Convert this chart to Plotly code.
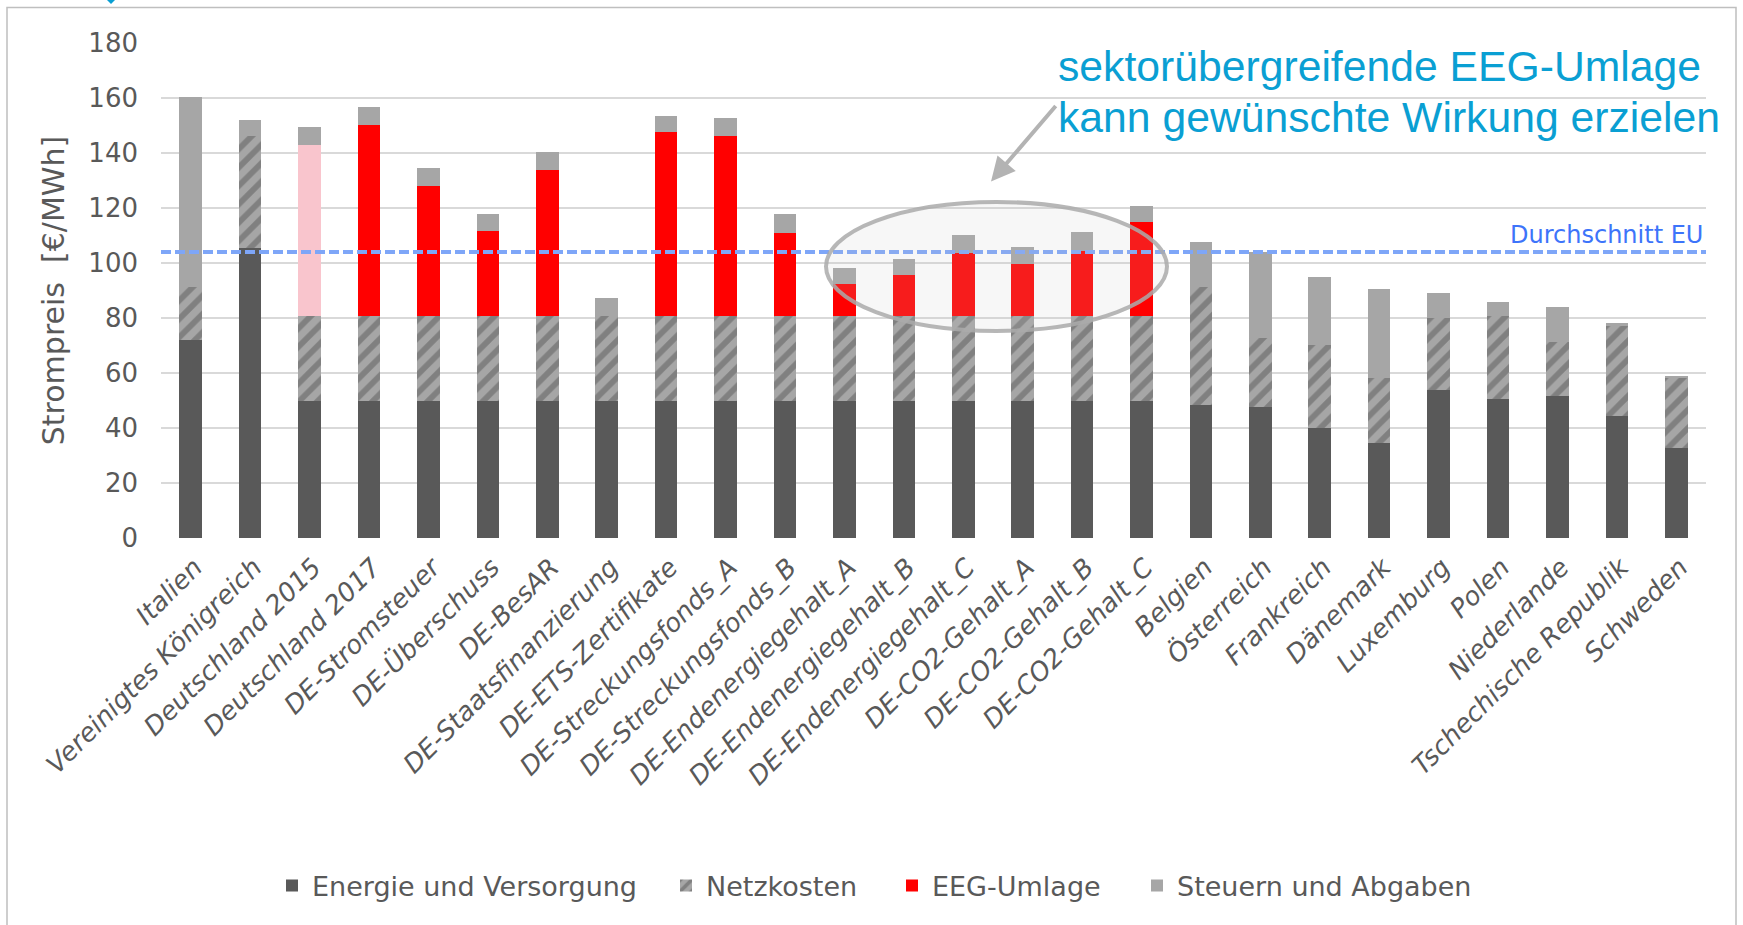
import plotly.graph_objects as go

# ---------------- data ----------------
categories = ['Italien', 'Vereinigtes Königreich', 'Deutschland 2015', 'Deutschland 2017',
              'DE-Stromsteuer', 'DE-Überschuss', 'DE-BesAR', 'DE-Staatsfinanzierung',
              'DE-ETS-Zertifikate', 'DE-Streckungsfonds_A', 'DE-Streckungsfonds_B',
              'DE-Endenergiegehalt_A', 'DE-Endenergiegehalt_B', 'DE-Endenergiegehalt_C',
              'DE-CO2-Gehalt_A', 'DE-CO2-Gehalt_B', 'DE-CO2-Gehalt_C', 'Belgien', 'Österreich',
              'Frankreich', 'Dänemark', 'Luxemburg', 'Polen', 'Niederlande',
              'Tschechische Republik', 'Schweden']

energie = [72.0, 105.3, 49.8, 49.8, 49.8, 49.8, 49.8, 49.8, 49.8, 49.8, 49.8, 49.8, 49.8,
           49.8, 49.8, 49.8, 49.8, 48.4, 47.5, 40.1, 34.5, 54.0, 50.7, 51.6, 44.2, 32.8]
netzkosten = [19.4, 40.8, 30.8, 31.1, 31.1, 31.1, 31.1, 31.1, 31.1, 31.1, 31.1, 31.1, 31.1,
              31.1, 31.1, 31.1, 31.1, 43.0, 25.3, 30.1, 23.6, 26.0, 30.1, 19.5, 32.8, 25.7]
eeg_umlage = [0, 0, 62.3, 69.3, 47.2, 30.9, 52.9, 0, 66.7, 65.2, 30.0, 11.4, 14.7, 22.8,
              18.6, 23.4, 34.1, 0, 0, 0, 0, 0, 0, 0, 0, 0]
steuern = [68.8, 5.8, 6.5, 6.5, 6.6, 5.9, 6.5, 6.5, 5.9, 6.7, 6.8, 5.9, 5.8, 6.6, 6.5, 6.8,
           5.8, 16.3, 31.3, 24.6, 32.5, 9.1, 4.9, 13.0, 1.3, 0.3]

durchschnitt_eu = 104
y_ticks = [0, 20, 40, 60, 80, 100, 120, 140, 160, 180]

# ---------------- styling ----------------
W, H = 1743, 925
L, R, T, B = 161, 37, 43, 387
PW, PH = W - L - R, H - T - B
TXT = '#595959'
FONT = 'DejaVu Sans'

def px_x(px):
    return (px - L) / PW

def px_y(py):
    return (H - B - py) / PH

slot = PW / len(categories)

def cat_x(px):
    return (px - L) / slot - 0.5

def val_y(py):
    return (H - B - py) / PH * 180

fig = go.Figure()

fig.add_trace(go.Bar(name='Energie und Versorgung', x=categories, y=energie,
                     marker=dict(color='#595959', line=dict(width=0)), legend='legend'))
fig.add_trace(go.Bar(name='Netzkosten', x=categories, y=netzkosten,
                     marker=dict(color='#a6a6a6', line=dict(width=0),
                                 pattern=dict(shape='/', fgcolor='#595959', bgcolor='#a6a6a6',
                                              size=13, solidity=0.45)),
                     legend='legend2'))
eeg_colors = ['#f9c5cd' if c == 'Deutschland 2015' else '#ff0000' for c in categories]
fig.add_trace(go.Bar(name='EEG-Umlage', x=categories, y=eeg_umlage,
                     marker=dict(color=eeg_colors, line=dict(width=0)), legend='legend3'))
fig.add_trace(go.Bar(name='Steuern und Abgaben', x=categories, y=steuern,
                     marker=dict(color='#a6a6a6', line=dict(width=0)), legend='legend4'))

# average line
fig.add_shape(type='line', xref='paper', yref='y', x0=0, x1=1,
              y0=durchschnitt_eu, y1=durchschnitt_eu, layer='above',
              line=dict(color='#7ea6f8', width=4, dash='10px,4px'))
fig.add_annotation(xref='paper', yref='paper', x=px_x(1705), y=px_y(235),
                   xanchor='right', yanchor='middle', showarrow=False,
                   text='Durchschnitt EU',
                   font=dict(family=FONT, size=24, color='#3d74fa'))

# ellipse highlight
fig.add_shape(type='circle', xref='x', yref='y',
              x0=cat_x(826), x1=cat_x(1167), y0=val_y(331), y1=val_y(202),
              layer='above', fillcolor='rgba(200,200,200,0.14)',
              line=dict(color='rgba(170,170,170,0.85)', width=4))

# arrow
fig.add_annotation(xref='x', yref='y', x=cat_x(991), y=val_y(181.5),
                   ax=66, ay=-77, axref='pixel', ayref='pixel', text='',
                   showarrow=True, arrowhead=2, arrowsize=1.2, arrowwidth=4,
                   arrowcolor='#b3b3b3')

# headline text (two lines)
head_font = dict(family='Liberation Sans', size=42.7, color='#0a9fd3')
fig.add_annotation(xref='paper', yref='paper', x=px_x(1056), y=px_y(66),
                   xanchor='left', yanchor='middle', align='left', showarrow=False,
                   text='sektorübergreifende EEG-Umlage', font=head_font)
fig.add_annotation(xref='paper', yref='paper', x=px_x(1056), y=px_y(117),
                   xanchor='left', yanchor='middle', align='left', showarrow=False,
                   text='kann gewünschte Wirkung erzielen', font=head_font)

# small cut-off mark at the top edge
fig.add_shape(type='path', xref='paper', yref='paper',
              path=f'M {px_x(107)},{px_y(0)} L {px_x(115)},{px_y(0)} L {px_x(111)},{px_y(4)} Z',
              fillcolor='#0a9fd3', line=dict(width=0), layer='above')

# outer frame
fig.add_shape(type='rect', xref='paper', yref='paper',
              x0=px_x(7), x1=px_x(1736), y0=px_y(935), y1=px_y(7.5),
              line=dict(color='#bfbfbf', width=1.5), fillcolor='rgba(0,0,0,0)', layer='below')

leg_common = dict(orientation='h', yanchor='middle', y=px_y(886), xanchor='left',
                  bgcolor='rgba(0,0,0,0)', font=dict(family=FONT, size=27, color=TXT))

fig.update_layout(
    width=W, height=H,
    margin=dict(l=L, r=R, t=T, b=B, autoexpand=False),
    paper_bgcolor='white', plot_bgcolor='white',
    barmode='stack', bargap=0.62,
    font=dict(family=FONT, color=TXT),
    showlegend=True,
    legend=dict(leg_common, x=px_x(272)),
    legend2=dict(leg_common, x=px_x(666)),
    legend3=dict(leg_common, x=px_x(892)),
    legend4=dict(leg_common, x=px_x(1137)),
    xaxis=dict(type='category', tickangle=-45, showgrid=False, showline=False,
               zeroline=False, ticks='', ticklabelstandoff=8, ticklabelshift=4,
               tickfont=dict(family=FONT, size=26, color=TXT, style='italic')),
    yaxis=dict(range=[0, 180], tickvals=y_ticks, showgrid=True, gridcolor='#d9d9d9',
               gridwidth=2, zeroline=False, showline=False, ticks='',
               ticklabelstandoff=22,
               tickfont=dict(family=FONT, size=26, color=TXT),
               title=dict(text='Strompreis  [€/MWh]', standoff=14,
                          font=dict(family=FONT, size=30, color=TXT))),
)

fig.write_html('out.html',
               config={'displayModeBar': False},
               post_script="document.body.style.margin='0';"
                           "document.documentElement.style.overflow='hidden';"
                           "document.body.style.overflow='hidden';")
